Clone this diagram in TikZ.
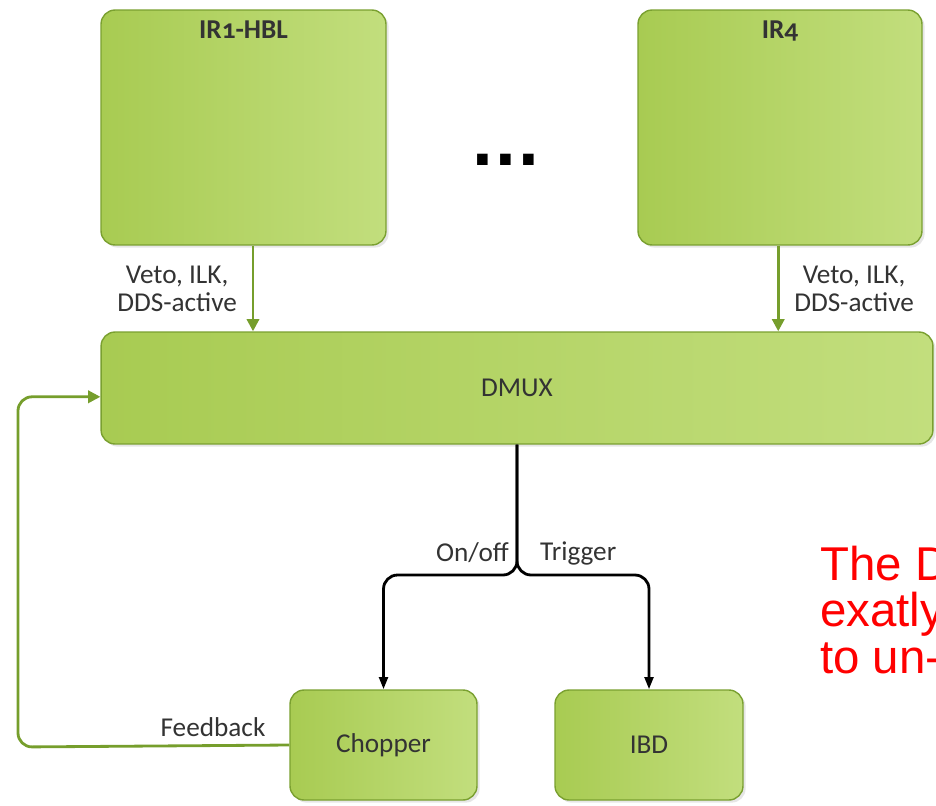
\documentclass[tikz,border=0pt]{standalone}
\usepackage{fontspec}
\setmainfont[Numbers=OldStyle]{Carlito}
\newfontfamily\notefont{Liberation Sans}
\newfontfamily\dotfont{DejaVu Sans}
\usetikzlibrary{arrows.meta,positioning,shadows}
\definecolor{boxlight}{RGB}{194,222,125}
\definecolor{boxdark}{RGB}{168,203,82}
\definecolor{boxedge}{RGB}{122,160,48}
\definecolor{linkgreen}{RGB}{118,158,44}
\definecolor{txtgray}{RGB}{51,51,51}
\definecolor{notered}{RGB}{255,0,0}

\begin{document}
\begin{tikzpicture}[x=0.02cm, y=-0.02cm,
    box/.style={rectangle, rounded corners=8pt, draw=boxedge, line width=0.8pt,
      left color=boxdark, right color=boxlight, text=txtgray,
      drop shadow={shadow xshift=1.5pt, shadow yshift=-1.5pt, opacity=0.2},
      font=\fontsize{15.5}{18}\selectfont},
    lbl/.style={text=txtgray, align=center, font=\fontsize{15.5}{16}\selectfont},
    garr/.style={-{Triangle[length=7pt, width=7pt]}, line width=1.6pt, linkgreen},
    barr/.style={-{Triangle[length=7pt, width=5pt]}, line width=1.6pt, black, rounded corners=8pt}
  ]
    \clip (0,0) rectangle (936,805);

    \node[box, minimum width=5.7cm, minimum height=4.7cm,
      label={[anchor=north, yshift=-3pt, lbl, font=\fontsize{15.5}{18}\selectfont\bfseries]north:IR1-HBL}]
      (ir1) at (243.5,127.5) {};
    \node[box, minimum width=5.68cm, minimum height=4.7cm,
      label={[anchor=north, yshift=-3pt, lbl, font=\fontsize{15.5}{18}\selectfont\bfseries]north:IR4}]
      (ir4) at (780,127.5) {};
    \node[font=\dotfont\fontsize{34}{34}\selectfont\bfseries, anchor=base] (dots) at (506,165) {...};

    \node[box, minimum width=16.64cm, minimum height=2.24cm] (dmux) at (517,388) {DMUX};

    \node[box, minimum width=3.74cm, minimum height=2.2cm] (chop) at (383.5,745) {Chopper};
    \node[box, minimum width=3.76cm, minimum height=2.2cm] (ibd)  at (649,745) {IBD};

    % interlock signals into the DMUX
    \draw[garr] ([xshift=5.4pt]ir1.south) -- ([xshift=5.4pt]ir1.south |- dmux.north)
      node[lbl, midway, left=5pt] {Veto, ILK,\\DDS-active};
    \draw[garr] ([xshift=-1pt]ir4.south) -- ([xshift=-1pt]ir4.south |- dmux.north)
      node[lbl, midway, right=5pt] {Veto, ILK,\\DDS-active};

    % outputs
    \coordinate (split) at (517,575);
    \draw[barr] (dmux.south) -- (split) -| (chop.north);
    \draw[barr] (dmux.south) -- (split) -| (ibd.north);
    \node[lbl, anchor=east] (onoff) at (515,553) {On/off};
    \node[lbl, anchor=west] (trig) at (534,553) {Trigger};

    % feedback loop
    \draw[garr, rounded corners=8pt] (chop.west) -- (18,747) |- ([yshift=-5pt]dmux.west);
    \node[lbl] (fb) at (213,727) {Feedback};

    \node[anchor=west, align=left, text=notered,
      font=\notefont\fontsize{27}{26.5}\selectfont] (note) at (814,610) {The D\\exatly\\to un-};
\end{tikzpicture}
\end{document}
